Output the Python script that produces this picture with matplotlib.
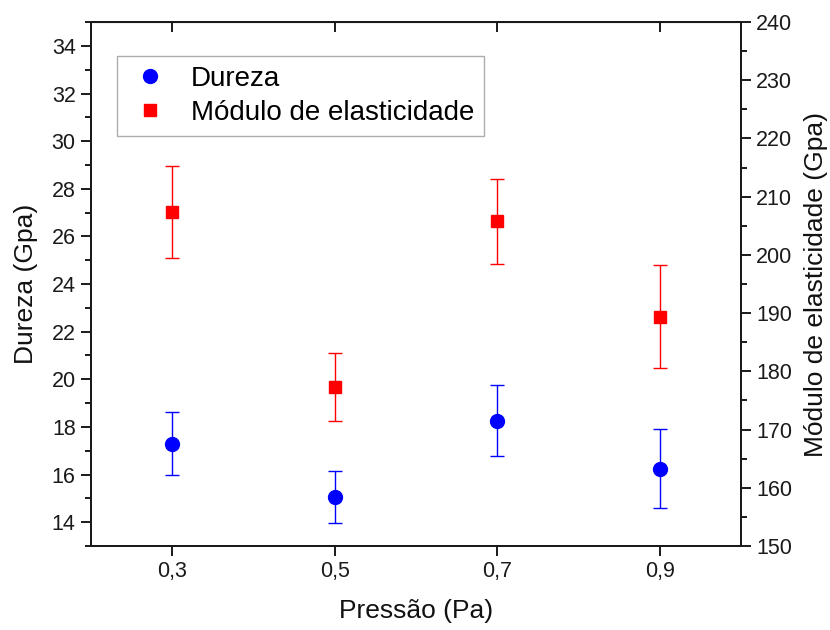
import numpy as np
import matplotlib
matplotlib.use('Agg')
import matplotlib.pyplot as plt
from matplotlib.ticker import MultipleLocator, FixedLocator

plt.rcParams['font.family'] = ['Liberation Sans', 'DejaVu Sans']

# pressure levels and measured properties
pressao = [0.3, 0.5, 0.7, 0.9]
pressao_labels = ['0,3', '0,5', '0,7', '0,9']
dureza = [17.3, 15.07, 18.27, 16.25]
dureza_err = [1.32, 1.1, 1.5, 1.65]
modulo = [207.4, 177.3, 205.8, 189.4]
modulo_err = [7.9, 5.8, 7.3, 8.9]

fig = plt.figure(figsize=(8.3, 6.3), dpi=100)
ax = fig.add_axes([0.1096, 0.1333, 0.7832, 0.8317])
ax2 = ax.twinx()

h1 = ax.errorbar(pressao, dureza, yerr=dureza_err, fmt='o', color='blue',
                 ms=10, elinewidth=1, capsize=5, capthick=1, label='Dureza')
h2 = ax2.errorbar(pressao, modulo, yerr=modulo_err, fmt='s', color='red',
                  ms=9, elinewidth=1, capsize=5, capthick=1,
                  label='Módulo de elasticidade')

ax.set_xlim(0.2, 1.0)
ax.set_ylim(13, 35)
ax2.set_ylim(150, 240)

ax.set_xticks(pressao)
ax.set_xticklabels(pressao_labels)
ax.yaxis.set_major_locator(FixedLocator(np.arange(14, 35, 2)))
ax.yaxis.set_minor_locator(MultipleLocator(1))
ax2.yaxis.set_major_locator(MultipleLocator(10))
ax2.yaxis.set_minor_locator(MultipleLocator(5))

for a in (ax, ax2):
    for s in a.spines.values():
        s.set_linewidth(1.4)
        s.set_color('#1a1a1a')
    a.tick_params(which='major', length=7, width=1.4, labelsize=15.5,
                  color='#1a1a1a', labelcolor='#1a1a1a', pad=4)
    a.tick_params(which='minor', length=4, width=1.4, color='#1a1a1a')
ax.tick_params(axis='x', which='minor', bottom=False)

# inward ticks along the top edge
top = ax.secondary_xaxis('top')
top.set_xticks(pressao)
top.tick_params(direction='in', length=7, width=1.4, labeltop=False, color='#1a1a1a')

ax.set_xlabel('Pressão (Pa)', fontsize=19, labelpad=12, color='#111111')
ax.set_ylabel('Dureza (Gpa)', fontsize=19, labelpad=10, color='#111111')
ax2.set_ylabel('Módulo de elasticidade (Gpa)', fontsize=19, labelpad=8, color='#111111')

leg = ax.legend([h1[0], h2[0]], ['Dureza', 'Módulo de elasticidade'],
                loc='upper left', bbox_to_anchor=(0.04, 0.935), fontsize=20,
                frameon=True, fancybox=False, edgecolor='#999999',
                handlelength=1.7, handletextpad=0.6, borderpad=0.35,
                labelspacing=0.3, borderaxespad=0)
leg.get_frame().set_linewidth(1.0)

fig.savefig('out.png', dpi=100)
